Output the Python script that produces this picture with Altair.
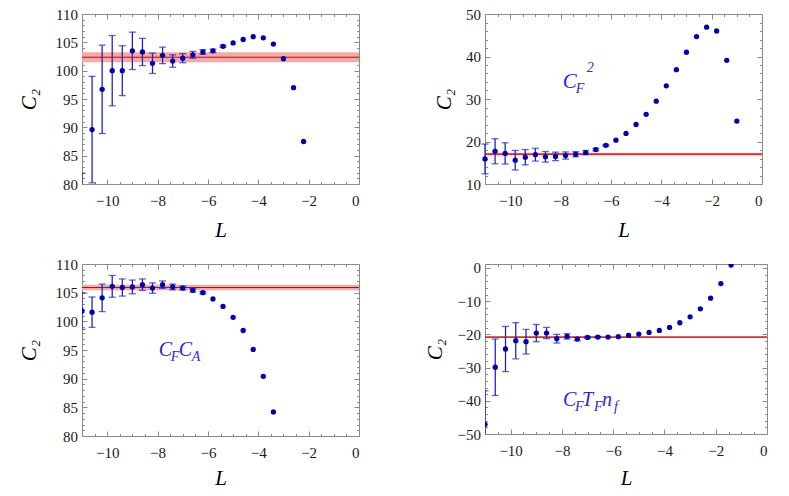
import altair as alt
import pandas as pd

SERIF = "Liberation Serif"
FRAME = "#8a8a8a"
PT = "#0000a8"
BAR = "#2323c4"
ANN = "#2b2bd0"
BAND = "#f7a3a3"
LINE = "#d40000"

# ---------------- data ----------------
L1 = [-11.0, -10.6, -10.2, -9.8, -9.4, -9.0, -8.6, -8.2, -7.8, -7.4, -7.0, -6.6,
      -6.2, -5.8, -5.4, -5.0, -4.6, -4.2, -3.8, -3.4, -3.0, -2.6, -2.2]
C1 = [74.5, 89.6, 96.7, 100.0, 100.0, 103.5, 103.3, 101.3, 102.7, 101.7, 102.2, 102.8,
      103.3, 103.5, 104.3, 104.9, 105.5, 106.0, 105.8, 104.7, 102.1, 97.0, 87.5]
E1 = [7.4, 9.4, 7.8, 6.2, 4.4, 3.3, 2.4, 1.8, 1.45, 1.1, 0.8, 0.6,
      0.4, 0.3, 0.2, 0, 0, 0, 0, 0, 0, 0, 0]
BAND1 = [102.37, 0.88]

L2 = [-11.0, -10.6, -10.2, -9.8, -9.4, -9.0, -8.6, -8.2, -7.8, -7.4, -7.0, -6.6, -6.2,
      -5.8, -5.4, -5.0, -4.6, -4.2, -3.8, -3.4, -3.0, -2.6, -2.2, -1.8, -1.4, -1.0]
C2 = [15.9, 17.7, 17.2, 15.6, 16.3, 16.9, 16.4, 16.5, 16.7, 17.0, 17.4, 18.1, 19.1,
      20.3, 21.9, 24.0, 26.4, 29.5, 33.1, 36.9, 41.0, 44.7, 46.9, 46.0, 39.1, 24.8]
E2 = [3.5, 2.95, 2.5, 2.3, 1.8, 1.5, 1.25, 1.0, 0.85, 0.6, 0.5, 0.3, 0.2,
      0, 0, 0, 0, 0, 0, 0, 0, 0, 0, 0, 0, 0]
BAND2 = [17.05, 0.3]

L3 = [-11.0, -10.6, -10.2, -9.8, -9.4, -9.0, -8.6, -8.2, -7.8, -7.4, -7.0, -6.6,
      -6.2, -5.8, -5.4, -5.0, -4.6, -4.2, -3.8, -3.4]
C3 = [101.8, 101.6, 104.1, 106.1, 105.9, 106.0, 106.4, 105.8, 106.4, 106.0, 105.8, 105.4,
      105.0, 103.9, 102.6, 100.7, 98.4, 95.1, 90.4, 84.2]
E3 = [3.2, 2.65, 2.4, 1.9, 1.5, 1.2, 1.0, 0.9, 0.65, 0.5, 0.35, 0.3,
      0.2, 0, 0, 0, 0, 0, 0, 0]
BAND3 = [105.9, 0.5]

L4 = [-11.0, -10.6, -10.2, -9.8, -9.4, -9.0, -8.6, -8.2, -7.8, -7.4, -7.0, -6.6, -6.2,
      -5.8, -5.4, -5.0, -4.6, -4.2, -3.8, -3.4, -3.0, -2.6, -2.2, -1.8, -1.4]
C4 = [-47.1, -29.9, -24.4, -21.9, -22.2, -19.6, -19.6, -21.3, -20.6, -21.4, -20.9, -20.8, -20.8,
      -20.7, -20.3, -19.9, -19.4, -18.8, -17.9, -16.5, -14.7, -12.3, -9.1, -4.7, 0.9]
E4 = [10.1, 8.5, 6.8, 5.45, 3.7, 2.6, 1.7, 1.3, 0.8, 0.5, 0.3, 0.2, 0,
      0, 0, 0, 0, 0, 0, 0, 0, 0, 0, 0, 0]
BAND4 = [-20.8, 0.25]

X_MAJOR = [-10, -8, -6, -4, -2, 0]
X_MINOR = [-11, -10.5, -9.5, -9, -8.5, -7.5, -7, -6.5, -5.5, -5, -4.5,
           -3.5, -3, -2.5, -1.5, -1, -0.5]

Y1_MAJOR = [80, 85, 90, 95, 100, 105, 110]
Y1_MINOR = [v for v in range(81, 110) if v % 5 != 0]
Y2_MAJOR = [10, 20, 30, 40, 50]
Y2_MINOR = [v for v in range(12, 50, 2) if v % 10 != 0]
Y4_MAJOR = [-50, -40, -30, -20, -10, 0]
Y4_MINOR = [v for v in range(-48, 0, 2) if v % 10 != 0]

# annotations: anchor (L, C) and pieces (text, dx, dy, fontsize)
ANN2 = ([-7.91], [32.5], [("C", 0, 0, 21), ("F", 13, 5, 14), ("2", 24, -16, 14)])
ANN3 = ([-7.95], [93.95], [("C", 0, 0, 20), ("F", 12, 5, 14), ("C", 20, 0, 20), ("A", 33, 5, 14)])
ANN4 = ([-7.96], [-41.6], [("C", 0, 0, 20), ("F", 12, 5, 14), ("T", 19, 0, 20),
                           ("F", 31, 5, 14), ("n", 39, 0, 20), ("f", 51, 5, 14)])

MAJ = 5
MIN = 2.5


def tick_axis(orient, values, size, off):
    return alt.Axis(orient=orient, offset=off, values=values, labels=False, domain=False,
                    grid=False, ticks=True, tickColor=FRAME, tickWidth=1, tickSize=size,
                    title=None)


def panel(L, C, E, band, ydom, ymajor, yminor, W, H, title_x, title_y, ann, clip):
    df = pd.DataFrame({"L": L, "C": C, "E": E})
    df["lo"] = df["C"] - df["E"]
    df["hi"] = df["C"] + df["E"]
    caps = df[df["E"] > 0]
    xs = alt.Scale(domain=[-11, 0], nice=False, zero=False)
    ys = alt.Scale(domain=ydom, nice=False, zero=False)

    bdf = pd.DataFrame({"c": [band[0]], "lo": [band[0] - band[1]], "hi": [band[0] + band[1]]})
    band_l = alt.Chart(bdf).mark_rect(color=BAND, opacity=0.95).encode(
        y=alt.Y("lo:Q", scale=ys, axis=None), y2="hi:Q")
    line_l = alt.Chart(bdf).mark_rule(color=LINE, strokeWidth=1.2).encode(
        y=alt.Y("c:Q", scale=ys, axis=None))
    # frame tick carriers (inside ticks on all four sides)
    bars = alt.Chart(caps).mark_rule(color=BAR, strokeWidth=1.3, clip=clip).encode(
        x=alt.X("L:Q", scale=xs, axis=tick_axis("top", X_MAJOR, MAJ, -H)),
        y=alt.Y("lo:Q", scale=ys, axis=tick_axis("right", ymajor, MAJ, -W)),
        y2="hi:Q")
    cap_hi = alt.Chart(caps).mark_tick(orient="horizontal", size=7, thickness=1.3,
                                       color=BAR, clip=clip).encode(
        x=alt.X("L:Q", scale=xs, axis=tick_axis("bottom", X_MAJOR, MAJ, -H)),
        y=alt.Y("hi:Q", scale=ys, axis=tick_axis("left", ymajor, MAJ, -W)))
    cap_lo = alt.Chart(caps).mark_tick(orient="horizontal", size=7, thickness=1.3,
                                       color=BAR, clip=clip).encode(
        x=alt.X("L:Q", scale=xs, axis=tick_axis("top", X_MINOR, MIN, -H)),
        y=alt.Y("lo:Q", scale=ys, axis=tick_axis("right", yminor, MIN, -W)))
    ghost = alt.Chart(df).mark_circle(size=1, opacity=0).encode(
        x=alt.X("L:Q", scale=xs, axis=tick_axis("bottom", X_MINOR, MIN, -H)),
        y=alt.Y("C:Q", scale=ys, axis=tick_axis("left", yminor, MIN, -W)))
    pts = alt.Chart(df).mark_circle(size=28, color=PT, opacity=1, clip=clip).encode(
        x=alt.X("L:Q", scale=xs,
                axis=alt.Axis(orient="bottom", values=X_MAJOR, ticks=False, domain=False,
                              grid=False, labelPadding=9, title="L", titleY=title_y,
                              titleBaseline="alphabetic")),
        y=alt.Y("C:Q", scale=ys,
                axis=alt.Axis(orient="left", values=ymajor, ticks=False, domain=False,
                              grid=False, labelPadding=4.5, title="C₂", titleX=title_x,
                              titleBaseline="middle", titleAngle=-90)))
    layers = [band_l, line_l, ghost, bars, cap_hi, cap_lo, pts]
    if ann is not None:
        adf = pd.DataFrame({"L": ann[0], "C": ann[1]})
        for txt, dx, dy, fs in ann[2]:
            layers.append(
                alt.Chart(adf).mark_text(text=txt, align="left", baseline="alphabetic",
                                         dx=dx, dy=dy, font=SERIF, fontStyle="italic",
                                         fontSize=fs, color=ANN).encode(
                    x=alt.X("L:Q", scale=xs, axis=None),
                    y=alt.Y("C:Q", scale=ys, axis=None)))
    return alt.layer(*layers).resolve_axis(x="independent", y="independent").properties(
        width=W, height=H)


p1 = panel(L1, C1, E1, BAND1, [80, 110], Y1_MAJOR, Y1_MINOR, 277, 170, -52.5, 52, None, True)
p2 = panel(L2, C2, E2, BAND2, [10, 50], Y2_MAJOR, Y2_MINOR, 277, 170, -40.6, 52, ANN2, False)
p3 = panel(L3, C3, E3, BAND3, [80, 110], Y1_MAJOR, Y1_MINOR, 277, 172, -52.5, 48, ANN3, True)
p4 = panel(L4, C4, E4, BAND4, [-50, 1.2], Y4_MAJOR, Y4_MINOR, 282, 170, -50, 50, ANN4, True)

chart = alt.concat(
    p1, p2, p3, p4, columns=2, spacing={"row": 80, "column": 126}, bounds="flush"
).properties(
    padding={"left": 10, "top": -2, "right": 0, "bottom": 0}
).configure_view(
    stroke=FRAME, strokeWidth=1
).configure_axis(
    labelFont=SERIF, labelFontSize=15, labelColor="#1a1a1a",
    titleFont=SERIF, titleFontSize=21, titleFontStyle="italic",
    titleFontWeight="normal", titleColor="#000000"
)

chart.save("out.html", embed_options={"renderer": "svg", "actions": False})
